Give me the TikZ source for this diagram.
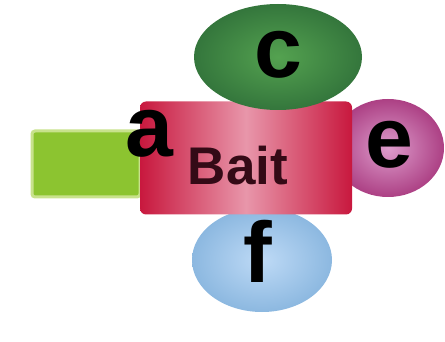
\documentclass[tikz,border=0pt]{standalone}
\usepackage{fontspec}
\setmainfont{Liberation Sans}
\usetikzlibrary{shapes.geometric}
\definecolor{limeA}{RGB}{140,196,48}
\definecolor{limeB}{RGB}{200,226,140}
\definecolor{baitEdge}{RGB}{200,24,62}
\definecolor{baitMid}{RGB}{232,150,170}
\definecolor{greenOut}{RGB}{52,118,60}
\definecolor{greenIn}{RGB}{84,162,80}
\definecolor{magOut}{RGB}{172,64,132}
\definecolor{magIn}{RGB}{222,156,204}
\definecolor{blueOut}{RGB}{140,184,224}
\definecolor{blueIn}{RGB}{190,218,246}
\definecolor{baitText}{RGB}{52,10,22}
\tikzset{
  blob/.style={ellipse, draw=none, inner sep=0pt},
  bigletter/.style={anchor=base, inner sep=0pt, font=\fontsize{86}{90}\selectfont\bfseries, text=black},
}
\begin{document}
\begin{tikzpicture}[x=1pt,y=-1pt]
\useasboundingbox (0,0) rectangle (445,342);
% lime rectangle
\node[draw=limeB, line width=3pt, fill=limeA, rounded corners=3pt, minimum width=108pt, minimum height=66pt, inner sep=0pt] (arect) at (86,164) {};
% magenta ellipse e
\node[blob, inner color=magIn, outer color=magOut, minimum width=112pt, minimum height=98pt] (eell) at (388,148) {};
% blue ellipse f
\node[blob, inner color=blueIn, outer color=blueOut, minimum width=140pt, minimum height=104pt] (fell) at (262,260) {};
% bait rectangle
\node[rounded corners=6pt, left color=baitEdge, right color=baitEdge, middle color=baitMid, minimum width=212pt, minimum height=113pt, inner sep=0pt] (bait) at (246,158) {};
% green ellipse c
\node[blob, inner color=greenIn, outer color=greenOut, minimum width=168pt, minimum height=106pt] (cell) at (278,57) {};
% labels
\node[anchor=base, inner sep=0pt, font=\fontsize{53}{56}\selectfont\bfseries, text=baitText] (baittxt) at (238,185) {Bait};
\node[bigletter] (la) at (149,157) {a};
\node[bigletter] (lc) at (278,78) {c};
\node[bigletter] (le) at (389,168) {e};
\node[bigletter] (lf) at (258,283) {f};
\end{tikzpicture}
\end{document}
